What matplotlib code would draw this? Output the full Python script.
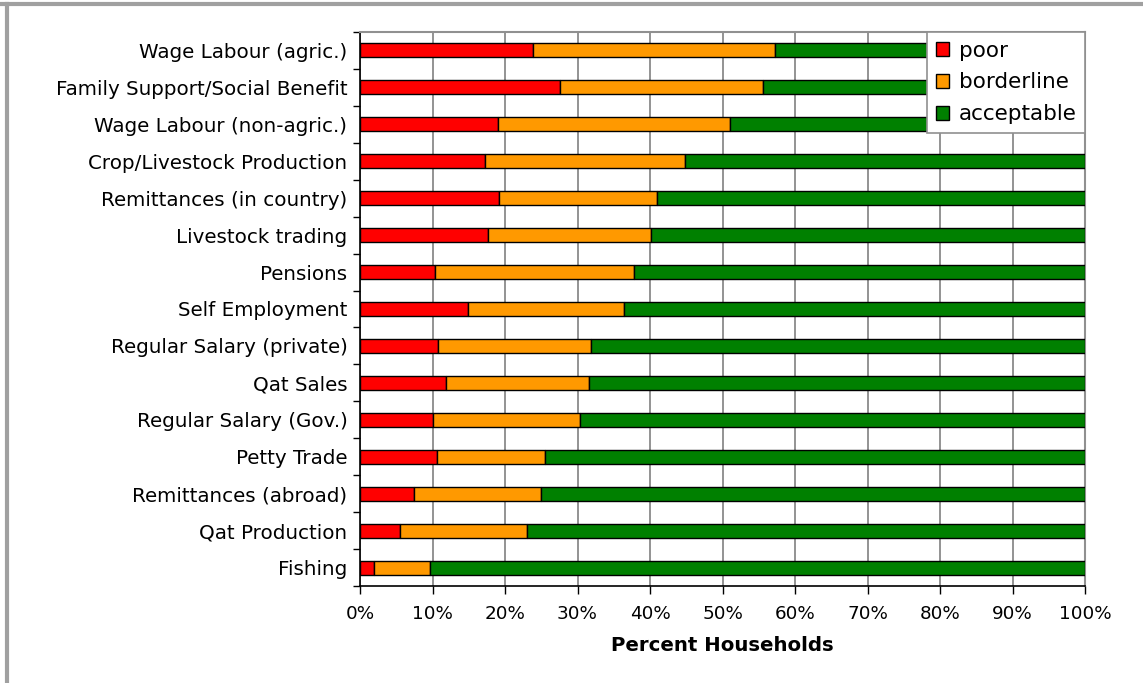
import numpy as np
import matplotlib
matplotlib.use("Agg")
import matplotlib.pyplot as plt
from matplotlib.lines import Line2D
from matplotlib.ticker import FixedLocator, PercentFormatter

# livelihood sources, top to bottom as in the chart
sources = [
    "Wage Labour (agric.)",
    "Family Support/Social Benefit",
    "Wage Labour (non-agric.)",
    "Crop/Livestock Production",
    "Remittances (in country)",
    "Livestock trading",
    "Pensions",
    "Self Employment",
    "Regular Salary (private)",
    "Qat Sales",
    "Regular Salary (Gov.)",
    "Petty Trade",
    "Remittances (abroad)",
    "Qat Production",
    "Fishing",
]
poor = [23.8, 27.6, 19.0, 17.3, 19.2, 17.6, 10.3, 14.9, 10.8, 11.8, 10.1, 10.6, 7.4, 5.5, 1.9]
borderline = [33.5, 28.0, 32.0, 27.5, 21.7, 22.6, 27.5, 21.5, 21.0, 19.8, 20.2, 14.9, 17.6, 17.6, 7.8]
acceptable = [42.7, 44.4, 49.0, 55.2, 59.1, 59.8, 62.2, 63.6, 68.2, 68.4, 69.7, 74.5, 75.0, 76.9, 90.3]

series_names = ["poor", "borderline", "acceptable"]
colors = ["#ff0000", "#ff9900", "#008000"]

plt.rcParams["font.family"] = ["DejaVu Sans"]

fig = plt.figure(figsize=(11.43, 6.83), dpi=100)
ax = fig.add_axes([360 / 1143, 1 - 586 / 683, 725 / 1143, 554 / 683])

y = np.arange(len(sources))
left = np.zeros(len(sources))
for name, vals, c in zip(series_names, [poor, borderline, acceptable], colors):
    vals = np.array(vals)
    ax.barh(y, vals, left=left, height=0.38, color=c, edgecolor="black",
            linewidth=1.0, label=name, zorder=3)
    left += vals

ax.set_xlim(0, 100)
ax.set_ylim(len(sources) - 0.5, -0.5)
ax.set_yticks(y)
ax.set_yticklabels(sources, fontsize=14.3)
ax.yaxis.set_minor_locator(FixedLocator(np.arange(-0.5, len(sources), 1.0)))
ax.tick_params(axis="y", which="major", length=0, pad=9)
ax.tick_params(axis="y", which="minor", length=5, width=1, color="black")

ax.set_xticks(np.arange(0, 101, 10))
ax.xaxis.set_major_formatter(PercentFormatter(decimals=0))
ax.tick_params(axis="x", length=6, width=1, labelsize=13.2, pad=8)
ax.set_xlabel("Percent Households", fontsize=14.2, fontweight="bold", labelpad=9)

ax.grid(axis="x", color="#808080", linewidth=1.2, zorder=0)
ax.set_axisbelow(True)

for side in ["top", "right"]:
    ax.spines[side].set_color("#909090")
    ax.spines[side].set_linewidth(1.5)
for side in ["left", "bottom"]:
    ax.spines[side].set_color("black")
    ax.spines[side].set_linewidth(1.2)

leg = ax.legend(loc="upper right", borderaxespad=0, fontsize=15.5, fancybox=False,
                framealpha=1, edgecolor="#909090", handlelength=0.6,
                handleheight=0.6, handletextpad=0.45, labelspacing=0.55,
                borderpad=0.4)
leg.get_frame().set_linewidth(1.2)
leg.set_zorder(5)

# grey frame lines along the top and left edges of the picture
fig.add_artist(Line2D([0, 1], [1 - 4 / 683, 1 - 4 / 683], color="#a0a0a0",
                      linewidth=3, transform=fig.transFigure))
fig.add_artist(Line2D([7 / 1143, 7 / 1143], [0, 1 - 4 / 683], color="#a0a0a0",
                      linewidth=3, transform=fig.transFigure))

fig.savefig("out.png", dpi=100)
